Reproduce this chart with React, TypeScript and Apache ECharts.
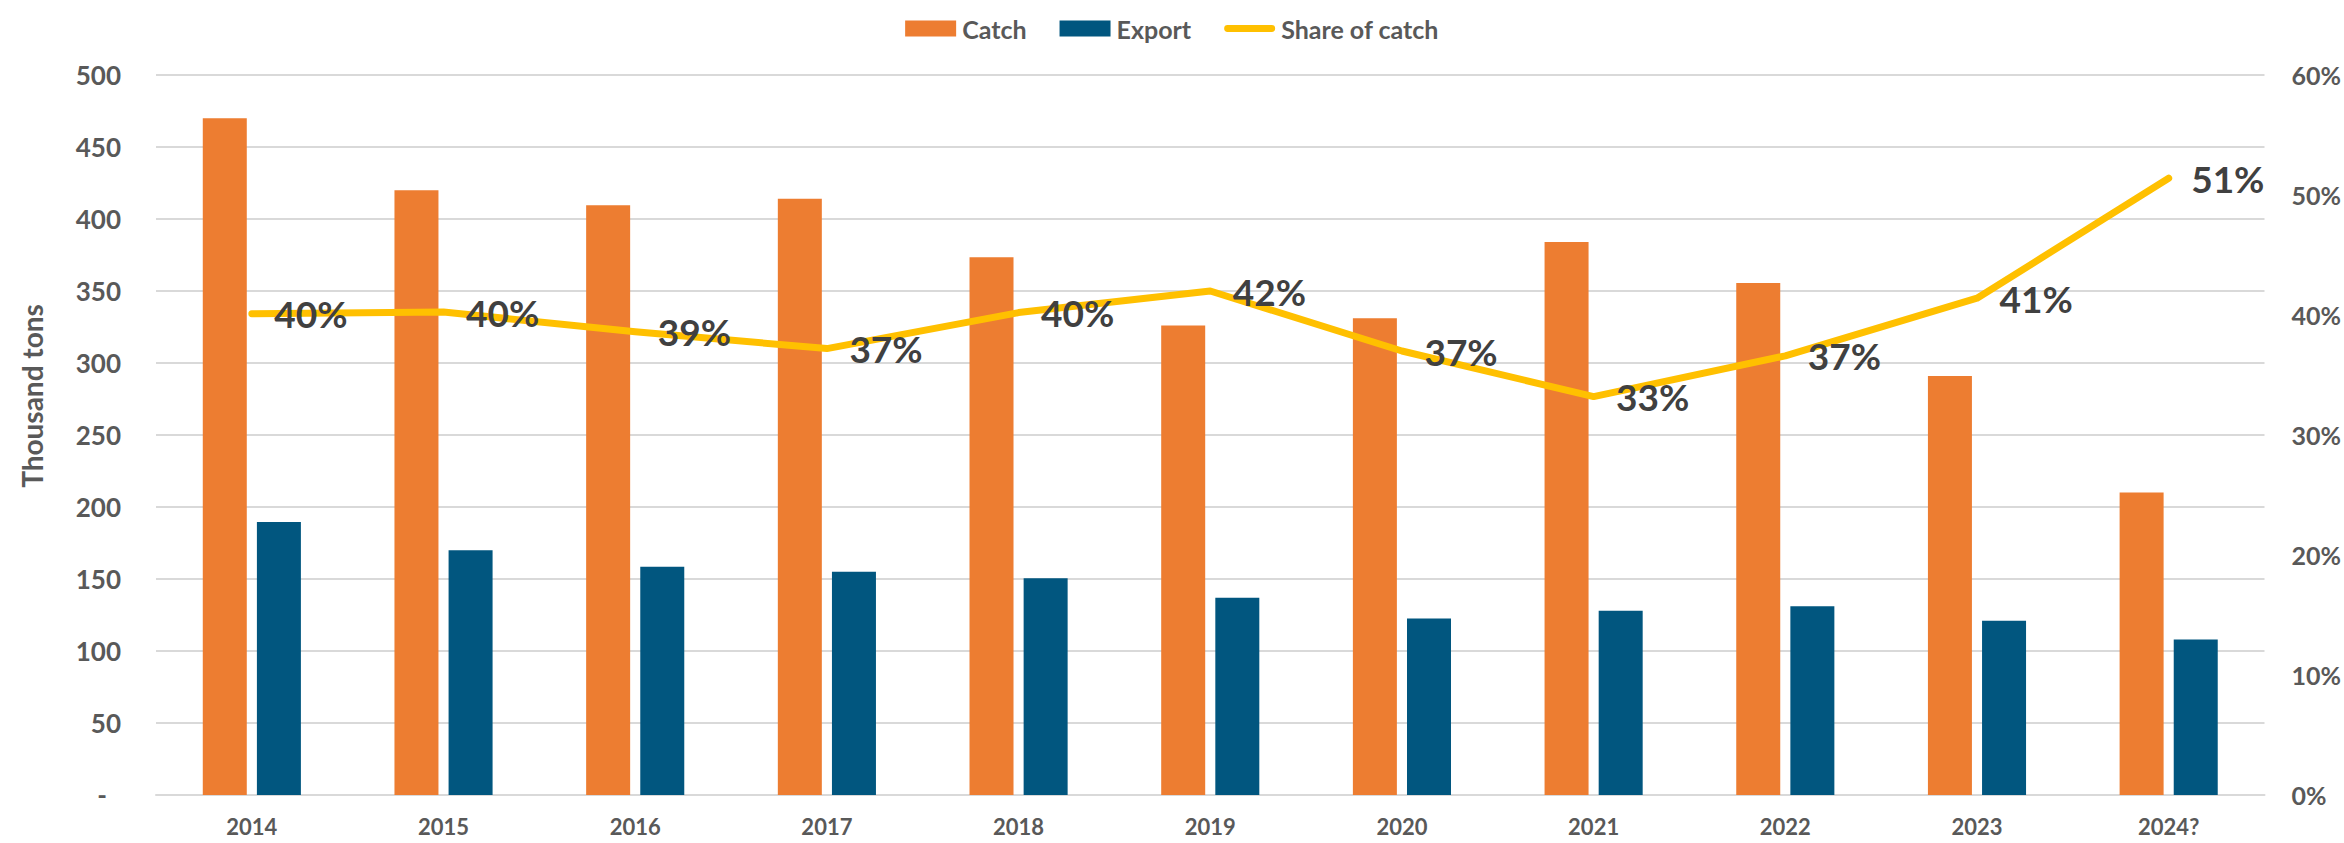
import React, { useEffect, useRef } from 'react';
import * as echarts from 'echarts';

const categories = ['2014', '2015', '2016', '2017', '2018', '2019', '2020', '2021', '2022', '2023', '2024?'];
const catchValues = [470, 420, 409.5, 414, 373.5, 326, 331, 384, 355.5, 291, 210];
const exportValues = [189.5, 170, 158.5, 155, 150.5, 137, 122.5, 128, 131, 121, 108];
const shareValues = [40.1, 40.25, 38.6, 37.2, 40.2, 42.0, 37.0, 33.2, 36.6, 41.4, 51.4];

const seriesNames = ['Catch', 'Export', 'Share of catch'];
const yAxisTitle = 'Thousand tons';

const FONT = 'Lato, "Open Sans", "DejaVu Sans", sans-serif';
const GRAY = '#595959';

export default function App() {
  const ref = useRef<HTMLDivElement>(null);

  useEffect(() => {
    if (!ref.current) return;
    const chart = echarts.init(ref.current, undefined, { renderer: 'svg' });
    chart.setOption({
      animation: false,
      backgroundColor: '#ffffff',
      textStyle: { fontFamily: FONT },
      grid: { left: 156, right: 77, top: 75, bottom: 48, containLabel: false },
      legend: {
        top: 11,
        left: 'center',
        itemWidth: 51,
        itemHeight: 16,
        itemGap: 33,
        textStyle: { fontFamily: FONT, fontSize: 25, fontWeight: 'bold', color: GRAY, padding: [0, 0, 0, 1] },
        data: [
          { name: seriesNames[0], icon: 'rect' },
          { name: seriesNames[1], icon: 'rect' },
          { name: seriesNames[2], icon: 'path://M4,0 L55,0 A4,4 0 0 1 55,8 L4,8 A4,4 0 0 1 4,0 Z' },
        ],
      },
      graphic: [
        {
          type: 'text',
          x: 32,
          y: 396,
          rotation: Math.PI / 2,
          style: {
            text: yAxisTitle,
            fontFamily: FONT,
            fontSize: 28,
            fontWeight: 'bold',
            fill: GRAY,
            textAlign: 'center',
            textVerticalAlign: 'middle',
          },
        },
      ],
      xAxis: {
        type: 'category',
        data: categories,
        boundaryGap: true,
        axisTick: { show: false },
        axisLine: { show: true, lineStyle: { color: '#D9D9D9', width: 2 } },
        axisLabel: { fontFamily: FONT, fontSize: 22, fontWeight: 'bold', color: GRAY, margin: 20 },
      },
      yAxis: [
        {
          type: 'value',
          min: 0,
          max: 500,
          interval: 50,
          axisLine: { show: false },
          axisTick: { show: false },
          splitLine: { lineStyle: { color: '#D9D9D9', width: 2 } },
          axisLabel: {
            fontFamily: FONT,
            fontSize: 26,
            fontWeight: 'bold',
            color: GRAY,
            margin: 35,
            formatter: (v: number) => (v === 0 ? '{dash|-}' : String(v)),
            rich: { dash: { fontFamily: FONT, fontSize: 26, fontWeight: 'bold', color: GRAY, padding: [0, 14, 0, 0] } },
          },
        },
        {
          type: 'value',
          min: 0,
          max: 60,
          interval: 10,
          position: 'right',
          axisLine: { show: false },
          axisTick: { show: false },
          splitLine: { show: false },
          axisLabel: {
            fontFamily: FONT,
            fontSize: 25,
            fontWeight: 'bold',
            color: GRAY,
            margin: 27,
            formatter: '{value}%',
          },
        },
      ],
      series: [
        {
          name: seriesNames[0],
          type: 'bar',
          data: catchValues,
          barWidth: 44,
          barGap: '23%',
          itemStyle: { color: '#ED7D31' },
        },
        {
          name: seriesNames[1],
          type: 'bar',
          data: exportValues,
          barWidth: 44,
          barGap: '23%',
          itemStyle: { color: '#01567F' },
        },
        {
          name: seriesNames[2],
          type: 'line',
          yAxisIndex: 1,
          data: shareValues,
          z: 5,
          symbol: 'circle',
          symbolSize: 1,
          itemStyle: { color: '#FFC000', borderWidth: 0 },
          lineStyle: { color: '#FFC000', width: 7, cap: 'round', join: 'round' },
          label: {
            show: true,
            position: 'right',
            distance: 22,
            fontFamily: FONT,
            fontSize: 37,
            fontWeight: 'bold',
            color: '#404040',
            formatter: (p: any) => Math.round(p.value) + '%',
          },
        },
      ],
    });
    return () => chart.dispose();
  }, []);

  return (
    <div
      ref={ref}
      style={{ position: 'fixed', left: 0, top: 0, width: 2344, height: 843, background: '#ffffff' }}
    />
  );
}
